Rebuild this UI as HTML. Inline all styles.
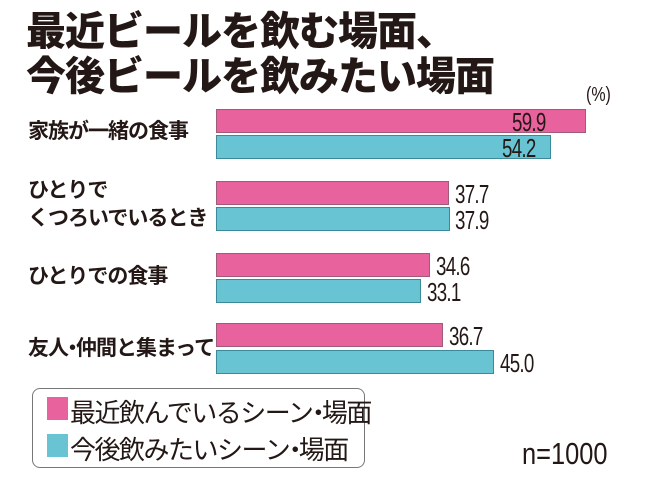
<!DOCTYPE html><html><head><meta charset="utf-8"><style>
body{margin:0;width:645px;height:478px;background:#fff;overflow:hidden;position:relative;font-family:"Liberation Sans","Noto Sans CJK JP",sans-serif;color:#231815}
.a{position:absolute;white-space:nowrap}
.t{font-size:40px;font-weight:900;left:26px;letter-spacing:-1px}
.l{font-size:21px;font-weight:700;left:28px;line-height:28px;letter-spacing:-1px}
.b{position:absolute;left:216px;height:24px;box-sizing:border-box;border:1px solid #a05a7a}
.p{background:#e8629d}.c{background:#68c4d2;border-color:#3a8a9a}
.v{position:absolute;font-size:26px;transform:scaleX(.72);transform-origin:left top;line-height:24px;letter-spacing:-1px}
.d{display:inline-block;margin:0 -6px}
.d2{display:inline-block;margin:0 -8px 0 -7px}
</style></head><body>
<div class="a t" style="top:-1px">最近ビールを飲む場面、</div>
<div class="a t" style="top:44px">今後ビールを飲みたい場面</div>
<div class="a" style="left:586px;top:84px;font-size:20px;transform:scaleX(.8);transform-origin:left top">(%)</div>
<div class="a l" style="top:118px">家族が一緒の食事</div>
<div class="a l" style="top:177px">ひとりで<br>くつろいでいるとき</div>
<div class="a l" style="top:263px">ひとりでの食事</div>
<div class="a l" style="top:335px">友人<span class="d">・</span>仲間と集まって</div>
<div class="b p" style="top:109px;width:370px"></div>
<div class="b c" style="top:135px;width:335px"></div>
<div class="b p" style="top:181px;width:233px"></div>
<div class="b c" style="top:207px;width:234px"></div>
<div class="b p" style="top:253px;width:214px"></div>
<div class="b c" style="top:279px;width:205px"></div>
<div class="b p" style="top:323px;width:227px"></div>
<div class="b c" style="top:350px;width:278px"></div>
<div class="v" style="left:512px;top:110px">59.9</div>
<div class="v" style="left:502px;top:136px">54.2</div>
<div class="v" style="left:455px;top:182px">37.7</div>
<div class="v" style="left:455px;top:208px">37.9</div>
<div class="v" style="left:436px;top:254px">34.6</div>
<div class="v" style="left:427px;top:280px">33.1</div>
<div class="v" style="left:449px;top:324px">36.7</div>
<div class="v" style="left:500px;top:351px">45.0</div>
<div class="a" style="left:32px;top:388px;width:333px;height:80px;border:1px solid #777;border-radius:8px;box-sizing:border-box"></div>
<div class="a p" style="left:47px;top:397px;width:21px;height:23px"></div>
<div class="a c" style="left:47px;top:434px;width:21px;height:23px"></div>
<div class="a" style="left:70px;top:393px;font-size:26px;letter-spacing:-1.5px">最近飲んでいるシーン<span class="d2">・</span>場面</div>
<div class="a" style="left:70px;top:430px;font-size:26px;letter-spacing:-1.5px">今後飲みたいシーン<span class="d2">・</span>場面</div>
<div class="a" style="left:522px;top:436px;font-size:31px;transform:scaleX(.82);transform-origin:left top">n=1000</div>
</body></html>
